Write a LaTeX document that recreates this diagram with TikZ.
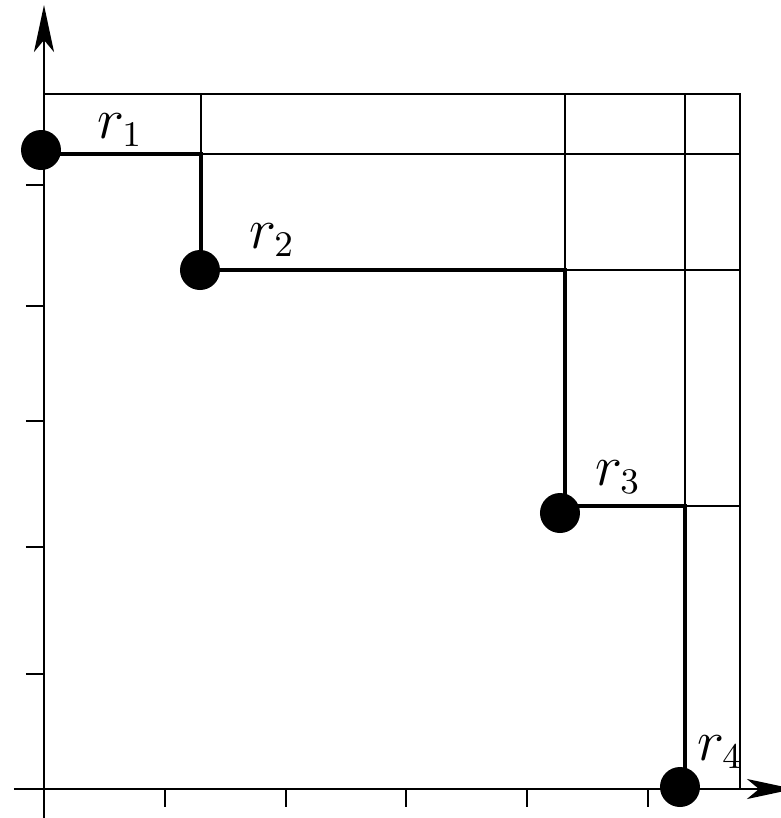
\documentclass[tikz,border=0pt]{standalone}
\usetikzlibrary{arrows.meta}
\begin{document}
\begin{tikzpicture}[x=0.25pt,y=-0.25pt,
  gridline/.style={line width=0.3pt},
  axisline/.style={line width=0.65pt},
  stair/.style={line width=1pt},
  ticktick/.style={line width=0.65pt},
  dot/.style={circle,fill=black,inner sep=0pt,minimum size=10pt},
  lab/.style={font=\fontsize{13.5}{16}\selectfont,inner sep=0pt},
  axarrow/.style={-{Stealth[length=11.75pt,width=5pt,inset=3pt]}}]
\useasboundingbox (0,0) rectangle (781,818);
% corner coordinates
\coordinate (s0) at (44,154);
\coordinate (c1) at (201,154);
\coordinate (c2) at (201,270);
\coordinate (c3) at (565,270);
\coordinate (c4) at (565,506);
\coordinate (c5) at (685,506);
\coordinate (c6) at (685,789);
\coordinate (t0) at (44,94);
\coordinate (t1) at (201,94);
\coordinate (t2) at (565,94);
\coordinate (t3) at (685,94);
\coordinate (t4) at (740,94);
\coordinate (e1) at (740,154);
\coordinate (e2) at (740,270);
\coordinate (e3) at (740,506);
\coordinate (e4) at (740,789);
% thin grid lines
\draw[gridline] (t0) -- (t4) -- (e4);
\draw[gridline] (t1) -- (c1) -- (e1);
\draw[gridline] (t2) -- (c3) -- (e2);
\draw[gridline] (t3) -- (c5) -- (e3);
% axes
\coordinate (xa0) at (14,789);
\coordinate (xa1) at (794,789);
\coordinate (ya0) at (44,818);
\coordinate (ya1) at (44,5);
\draw[axisline,axarrow] (xa0) -- (xa1);
\draw[axisline,axarrow] (ya0) -- (ya1);
% ticks
\foreach \x in {165,286,406,527,648}
  \draw[ticktick] (\x,789) -- (\x,807);
\foreach \y in {185,306,421,547,674}
  \draw[ticktick] (26,\y) -- (44,\y);
% staircase
\draw[stair] (s0) -- (c1) -- (c2) -- (c3) -- (c4) -- (c5) -- (c6);
% points
\node[dot] (r1) at (41,150) {};
\node[dot] (r2) at (200,270) {};
\node[dot] (r3) at (560,513) {};
\node[dot] (r4) at (680,787) {};
% labels
\node[lab] (l1) at (120,130) {$r_1$};
\node[lab] (l2) at (272,240) {$r_2$};
\node[lab] (l3) at (618,477) {$r_3$};
\node[lab] (l4) at (720,752) {$r_4$};
\end{tikzpicture}
\end{document}
